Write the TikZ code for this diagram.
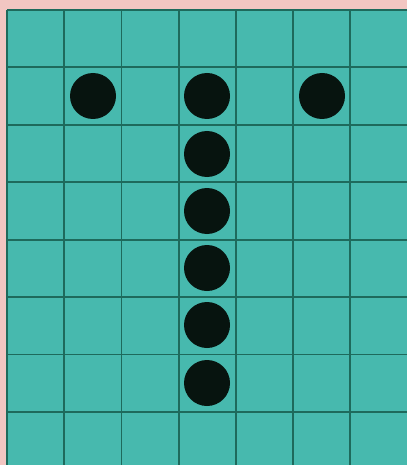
\documentclass[tikz,border=0pt]{standalone}
\definecolor{bgpink}{HTML}{F2C6C2}
\definecolor{boardteal}{HTML}{47B9AE}
\definecolor{gridline}{HTML}{1E6A5C}
\definecolor{stone}{HTML}{07140F}
\tikzset{
  gridstyle/.style={draw=gridline, line width=1.8pt},
  stonestyle/.style={circle, fill=stone, minimum size=46pt, inner sep=0pt}
}
\begin{document}
\begin{tikzpicture}[x=1pt,y=-1pt]
\useasboundingbox (0,0) rectangle (407,465);
\fill[bgpink] (0,0) rectangle (407,465);
\fill[boardteal] (7,10) rectangle (407,465);
\foreach \i in {0,...,6} {
  \draw[gridstyle] ({7+57.2*\i},10) -- ({7+57.2*\i},465);
}
\foreach \j in {0,...,7} {
  \draw[gridstyle] (7,{10+57.4*\j}) -- (407,{10+57.4*\j});
}
\node[stonestyle] (s1) at (93,96) {};
\node[stonestyle] (s2) at (207,96) {};
\node[stonestyle] (s3) at (322,96) {};
\node[stonestyle] (s4) at (207,154) {};
\node[stonestyle] (s5) at (207,211) {};
\node[stonestyle] (s6) at (207,268) {};
\node[stonestyle] (s7) at (207,325) {};
\node[stonestyle] (s8) at (207,383) {};
\end{tikzpicture}
\end{document}
